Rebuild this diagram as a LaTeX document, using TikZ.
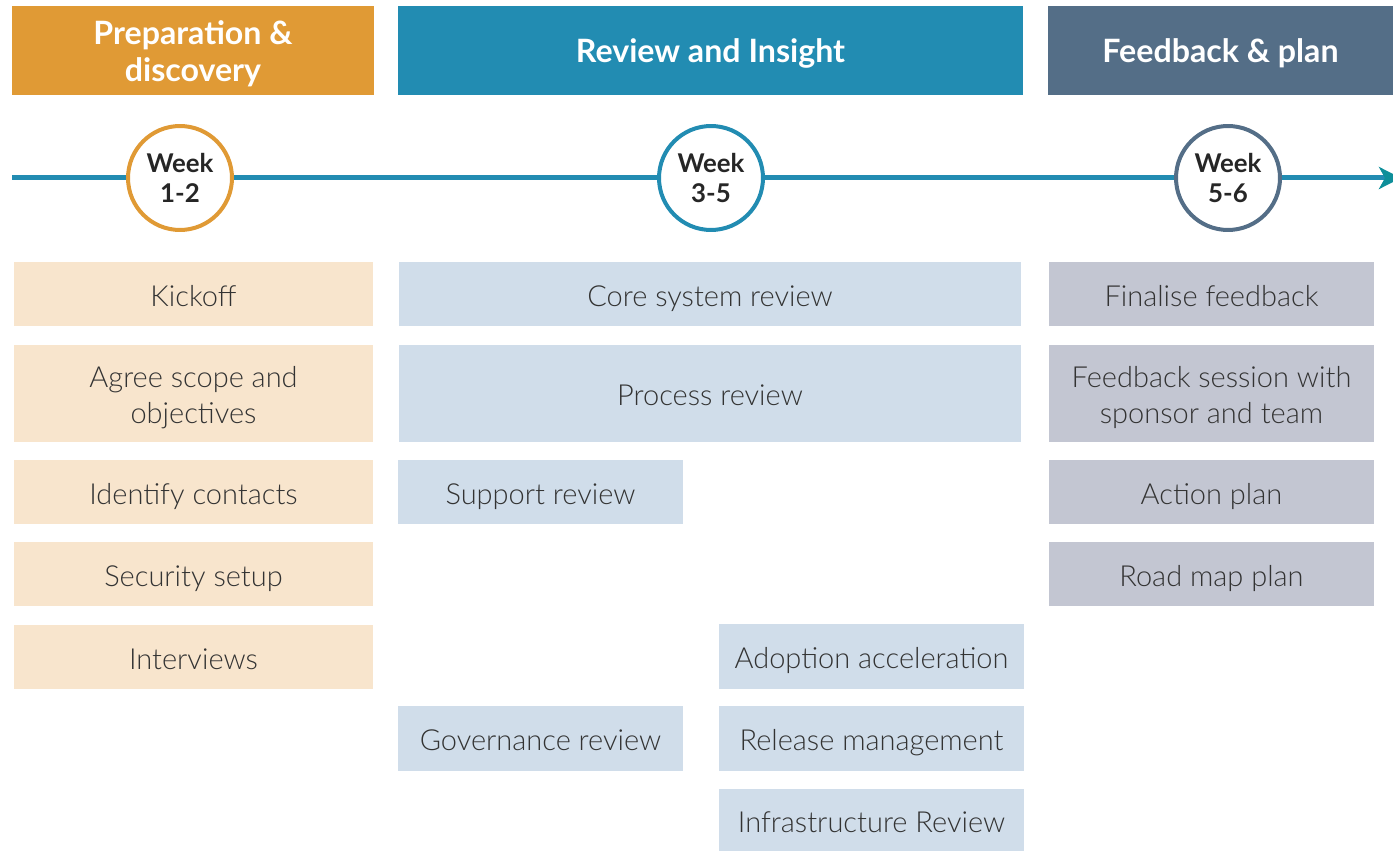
\documentclass[tikz,border=0pt]{standalone}
\usepackage{fontspec}
\setmainfont{Lato}[UprightFont={* Light}, BoldFont={* Bold}]
\usepackage{xcolor}
\usepackage{tikz}
\usetikzlibrary{arrows.meta}

\definecolor{prepC}{HTML}{E09A35}
\definecolor{prepL}{HTML}{F8E5CD}
\definecolor{revC}{HTML}{228CB2}
\definecolor{revL}{HTML}{D0DDEA}
\definecolor{fbC}{HTML}{546E87}
\definecolor{fbL}{HTML}{C3C6D2}
\definecolor{tipC}{HTML}{0E8F9A}
\definecolor{textC}{HTML}{333333}

\begin{document}
\begin{tikzpicture}[x=0.02cm, y=-0.02cm,
	header/.style={shape=rectangle, inner sep=0, minimum height=1.78cm, text=white, font=\fontsize{18.3}{21}\selectfont\bfseries, align=center,
		execute at begin node={\rule[-0.25em]{0pt}{1.25em}}, execute at end node={\rule[-0.25em]{0pt}{1.25em}}},
	task/.style={shape=rectangle, inner sep=0, text=textC, font=\fontsize{16.5}{20.5}\selectfont, align=center,
		execute at begin node={\rule[-0.25em]{0pt}{1.36em}}, execute at end node={\rule[-0.25em]{0pt}{1.36em}}},
	twolines/.style={execute at begin node={\rule[-0.25em]{0pt}{#1}}},
	week/.style={shape=circle, draw, line width=0.08cm, fill=white, inner sep=0, minimum size=2.08cm, font=\fontsize{14.7}{17.5}\selectfont\bfseries, text=black!85, align=center},
	timeline/.style={draw=revC, line width=0.1cm, -{Stealth[length=0.44cm, width=0.44cm, inset=0.12cm, color=tipC]}}]
	\useasboundingbox (0, 0) rectangle (1393, 851);
	% Phase headers:
	\node[header, twolines=2.4em, fill=prepC, minimum width=7.24cm] (Hprep) at (193, 50.5) {Preparation \&\\discovery};
	\node[header, fill=revC, minimum width=12.5cm] (Hrev) at (710.5, 50.5) {Review and Insight};
	\node[header, fill=fbC, minimum width=6.9cm] (Hfb) at (1220.5, 50.5) {Feedback \& plan};
	% Timeline and weeks:
	\coordinate (Tstart) at (12, 178);
	\coordinate (Tend) at (1401, 178);
	\draw[timeline] (Tstart) -- (Tend);
	\node[week, draw=prepC] (W1) at (180, 178) {Week\\1-2};
	\node[week, draw=revC] (W2) at (711, 178) {Week\\3-5};
	\node[week, draw=fbC] (W3) at (1228, 178) {Week\\5-6};
	% Preparation tasks:
	\node[task, fill=prepL, minimum width=7.18cm, minimum height=1.28cm] (T1) at (193.5, 294) {Kickoff};
	\node[task, twolines=2.6em, fill=prepL, minimum width=7.18cm, minimum height=1.94cm] (T2) at (193.5, 393.5) {Agree scope and\\objectives};
	\node[task, fill=prepL, minimum width=7.18cm, minimum height=1.28cm] (T3) at (193.5, 492) {Identify contacts};
	\node[task, fill=prepL, minimum width=7.18cm, minimum height=1.28cm] (T4) at (193.5, 574) {Security setup};
	\node[task, fill=prepL, minimum width=7.18cm, minimum height=1.28cm] (T5) at (193.5, 657) {Interviews};
	% Review tasks:
	\node[task, fill=revL, minimum width=12.44cm, minimum height=1.28cm] (R1) at (710, 294) {Core system review};
	\node[task, fill=revL, minimum width=12.44cm, minimum height=1.94cm] (R2) at (710, 393.5) {Process review};
	\node[task, fill=revL, minimum width=5.7cm, minimum height=1.28cm] (R3) at (540.5, 492) {Support review};
	\node[task, fill=revL, minimum width=6.1cm, minimum height=1.3cm] (R4) at (871.5, 656.5) {Adoption acceleration};
	\node[task, fill=revL, minimum width=5.7cm, minimum height=1.3cm] (R5) at (540.5, 738.5) {Governance review};
	\node[task, fill=revL, minimum width=6.1cm, minimum height=1.3cm] (R6) at (871.5, 738.5) {Release management};
	\node[task, fill=revL, minimum width=6.1cm, minimum height=1.24cm] (R7) at (871.5, 820) {Infrastructure Review};
	% Feedback tasks:
	\node[task, fill=fbL, minimum width=6.5cm, minimum height=1.28cm] (F1) at (1211.5, 294) {Finalise feedback};
	\node[task, twolines=2.6em, fill=fbL, minimum width=6.5cm, minimum height=1.94cm] (F2) at (1211.5, 393.5) {Feedback session with\\sponsor and team};
	\node[task, fill=fbL, minimum width=6.5cm, minimum height=1.28cm] (F3) at (1211.5, 492) {Action plan};
	\node[task, fill=fbL, minimum width=6.5cm, minimum height=1.28cm] (F4) at (1211.5, 574) {Road map plan};
\end{tikzpicture}
\end{document}
